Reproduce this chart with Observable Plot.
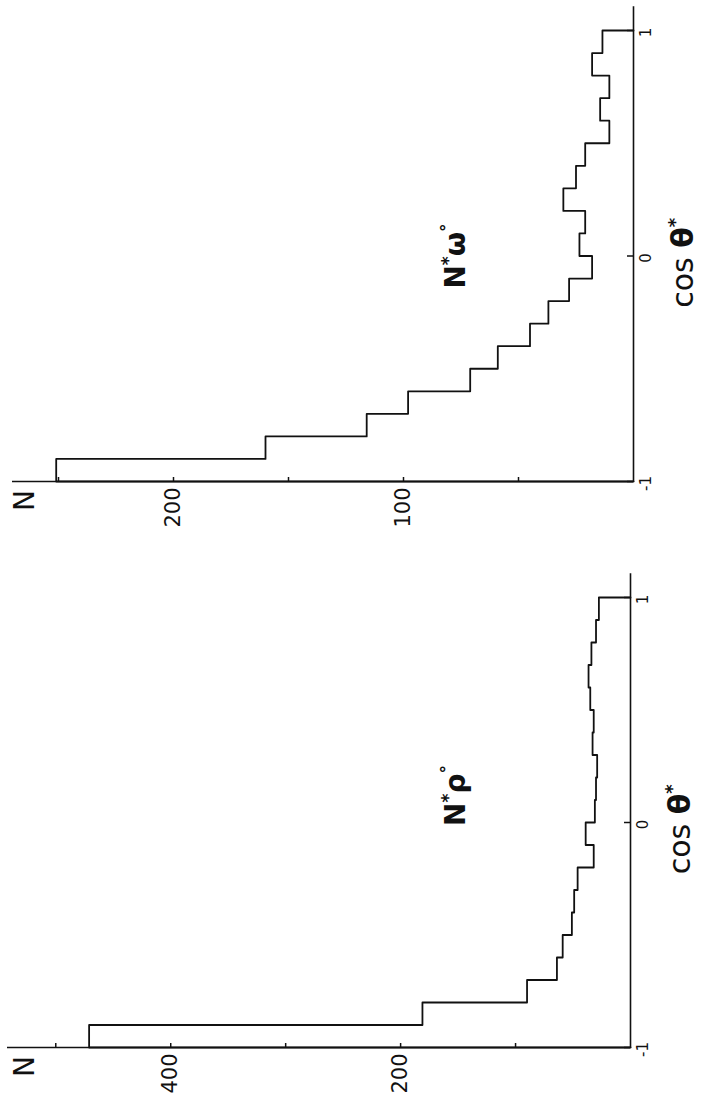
<!DOCTYPE html>
<html><head><meta charset="utf-8">
<script src="https://cdn.jsdelivr.net/npm/d3@7"></script>
<script src="https://cdn.jsdelivr.net/npm/@observablehq/plot@0.6"></script>
<style>
html,body{margin:0;padding:0;background:#fff;overflow:hidden;width:703px;height:1104px;}
#chart{position:absolute;left:0;top:0;width:1104px;height:703px;transform-origin:0 0;transform:translateY(1104px) rotate(-90deg);background:#fff;}
#chart svg{position:absolute;top:0;}
</style></head><body><div id="chart"></div>
<script>
// bin edges of cos θ*
const binEdges = [-1,-0.9,-0.8,-0.7,-0.6,-0.5,-0.4,-0.3,-0.2,-0.1,0,0.1,0.2,0.3,0.4,0.5,0.6,0.7,0.8,0.9,1];
// N*ρ° counts per bin
const rhoCounts = [471,181,90,64,59,51,49,46,32,39,31,30,29,33,32,35,36.5,34,30,27.5];
// N*ω° counts per bin
const omegaCounts = [251,160,116,98,71,59,45,37,28,18,23.5,21,30.5,25,21,10.5,14.5,10.5,18,13.5];
const cosTicks = [-1,0,1];
const cosTickLabels = ["-1","0","1"];
const rhoNTicks = [100,200,300,400,500];
const rhoNLabels = [200,400];
const omegaNTicks = [50,100,150,200,250];
const omegaNLabels = [100,200];
const rhoLabelPos = [0.12,152];
const omegaLabelPos = [0.0,77];
const cosLabelPos = [-0.03];

function stepPoints(edges, counts){
  const pts=[{x:edges[0],y:0}];
  counts.forEach((c,i)=>pts.push({x:edges[i],y:c}));
  pts.push({x:edges[edges.length-1],y:counts[counts.length-1]});
  pts.push({x:edges[edges.length-1],y:0});
  return pts;
}

function panel(o){
  const svg = Plot.plot({
    width:o.width, height:703,
    marginLeft:o.ml, marginRight:o.mr, marginTop:o.mt, marginBottom:o.mb,
    x:{domain:[-1,1],axis:null},
    y:{domain:[0,o.yMax],axis:null},
    style:{fontFamily:"'DejaVu Sans', sans-serif",background:"transparent",color:"#111"},
    marks:[
      Plot.ruleY([0],{x1:-1,x2:1.11,strokeWidth:1.6,stroke:"#111"}),
      Plot.ruleX([-1],{y1:0,y2:o.yMax,strokeWidth:1.6,stroke:"#111"}),
      Plot.ruleY(o.ticks,{x1:-1,x2:-1,insetRight:-5,strokeWidth:1.5,stroke:"#111"}),
      Plot.ruleX(cosTicks,{y1:0,y2:0,insetTop:-6,strokeWidth:1.5,stroke:"#111"}),
      Plot.line(stepPoints(binEdges,o.counts),{x:"x",y:"y",curve:"step-after",strokeWidth:1.8,stroke:"#111"}),
      Plot.text(o.labels,{x:-1,y:d=>d,text:d=>String(d),textAnchor:"end",dx:-6,fontSize:21,fill:"#111"}),
      Plot.text(["N"],{x:-1,y:o.yMax,dx:-19,dy:o.ndy,fontSize:28,fill:"#111"}),
      Plot.text(cosTicks,{x:d=>d,y:0,text:(d,i)=>cosTickLabels[i],dy:13,dx:-2,fontSize:15,fill:"#111"}),
      Plot.text([o.label],{x:o.labelPos[0],y:o.labelPos[1],fontSize:28,fontWeight:"bold",fill:"#111"}),
      Plot.text(["cos θ*"],{x:cosLabelPos[0],y:0,dy:50,fontSize:30,fill:"#111"})
    ]
  });
  svg.style.left = o.left+"px";
  // superscripts
  d3.select(svg).selectAll("text").each(function(){
    const t=d3.select(this); const s=this.textContent;
    if (s==="N*ρ°"||s==="N*ω°"){
      t.text(null);
      t.append("tspan").text("N");
      t.append("tspan").attr("dy",-11).attr("font-size",17).text("*");
      t.append("tspan").attr("dy",11).text(s[2]);
      t.append("tspan").attr("dy",-12).attr("font-size",17).text("°");
    } else if (s==="cos θ*"){
      t.text(null);
      t.append("tspan").text("cos ");
      t.append("tspan").attr("font-weight","bold").text("θ");
      t.append("tspan").attr("dy",-12).attr("font-size",18).attr("font-weight","bold").text("*");
    }
  });
  return svg;
}

const chart=document.getElementById("chart");
chart.appendChild(panel({counts:rhoCounts,yMax:542,ticks:rhoNTicks,labels:rhoNLabels,label:"N*ρ°",labelPos:rhoLabelPos,
  width:560,ml:56,mr:54,mt:7,mb:73,left:0,ndy:18}));
chart.appendChild(panel({counts:omegaCounts,yMax:270,ticks:omegaNTicks,labels:omegaNLabels,label:"N*ω°",labelPos:omegaLabelPos,
  width:544,ml:62,mr:31,mt:12,mb:70,left:560,ndy:13}));
</script>
</body></html>
